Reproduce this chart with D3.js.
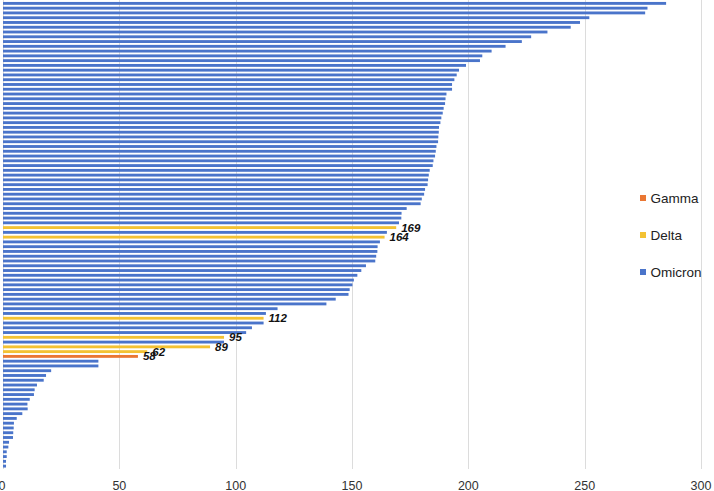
<!DOCTYPE html>
<html>
<head>
<meta charset="utf-8">
<script src="https://cdn.jsdelivr.net/npm/d3@7"></script>
<style>
  html, body { margin: 0; padding: 0; background: #fff; }
  svg { display: block; font-family: "Liberation Sans", Arial, Helvetica, sans-serif; }
</style>
</head>
<body>
<svg id="chart" width="714" height="491"></svg>
<script>
// ---- data (top row first) ----
const values = [
  285, 277, 276, 252, 248, 244, 234, 227, 223, 216,
  210, 206, 205, 199, 196, 195, 194, 193, 193, 190.6,
  190.2, 190, 189.4, 189, 188.4, 188, 187.4, 187.3, 187.1, 187,
  186.3, 186, 185.7, 185, 184.7, 183.4, 183, 182.7, 182.5, 181.4,
  181, 180, 179.5, 173.5, 171.3, 171.2, 170.2, 169, 165, 164,
  162, 161, 160.9, 160.4, 160, 156, 154, 152.3, 150.8, 150.2,
  149, 148.5, 143, 139, 118, 113, 112, 112, 107, 104.5,
  95, 95, 89, 62, 58, 41, 41, 20.7, 18.5, 17.5,
  14.6, 13.6, 13.3, 11.5, 10.5, 10.6, 8.3, 5.9, 4.7, 4.6,
  4.4, 4.3, 2.6, 2.3, 1.6, 1.6, 1.3, 1.3
];
const variants = values.map(() => "Omicron");
// rows (0-based) that belong to Delta / Gamma
const deltaRows = [47, 49, 66, 70, 72, 73];
const gammaRows = [74];
deltaRows.forEach(i => variants[i] = "Delta");
gammaRows.forEach(i => variants[i] = "Gamma");
const rowIds = values.map((v, i) => i + 1);
const seriesNames = ["Gamma", "Delta", "Omicron"];
const seriesColors = ["#EA7733", "#F3C233", "#4A74CA"];
const tickValues = [0, 50, 100, 150, 200, 250, 300];

// ---- chart ----
const svg = d3.select("#chart");
const x = d3.scaleLinear().domain([0, 300]).range([3, 701]);
const y = d3.scaleBand().domain(rowIds).range([1, 468.5]).paddingInner(0.4).paddingOuter(0.2);
const color = d3.scaleOrdinal().domain(seriesNames).range(seriesColors);

// gridlines
svg.append("g")
  .selectAll("line")
  .data(tickValues)
  .join("line")
  .attr("x1", d => Math.round(x(d)) + 0.5)
  .attr("x2", d => Math.round(x(d)) + 0.5)
  .attr("y1", 0)
  .attr("y2", 469)
  .attr("stroke", "#dcdcdc")
  .attr("stroke-width", 1);

// bars
const rows = values.map((v, i) => ({ id: rowIds[i], value: v, variant: variants[i] }));
svg.append("g")
  .selectAll("rect")
  .data(rows)
  .join("rect")
  .attr("x", x(0))
  .attr("y", d => y(d.id))
  .attr("width", d => x(d.value) - x(0))
  .attr("height", y.bandwidth())
  .attr("fill", d => color(d.variant));

// data labels on Delta / Gamma bars
svg.append("g")
  .selectAll("text")
  .data(rows.filter(d => d.variant !== "Omicron"))
  .join("text")
  .attr("x", d => x(d.value) + 5)
  .attr("y", d => y(d.id) + y.bandwidth() / 2 + 4.1)
  .attr("font-size", "11.5px")
  .attr("font-weight", "bold")
  .attr("font-style", "italic")
  .attr("fill", "#111")
  .text(d => d3.format(".0f")(d.value));

// x axis labels
svg.append("g")
  .selectAll("text")
  .data(tickValues)
  .join("text")
  .attr("x", d => x(d) - (d === 0 ? 1 : 0))
  .attr("y", 489.5)
  .attr("text-anchor", "middle")
  .attr("font-size", "12.5px")
  .attr("fill", "#333")
  .text(d => d);

// legend
const legend = svg.append("g")
  .selectAll("g")
  .data(seriesNames)
  .join("g")
  .attr("transform", (d, i) => `translate(640, ${198 + i * 37})`);
legend.append("rect")
  .attr("x", 0).attr("y", -3)
  .attr("width", 6).attr("height", 6)
  .attr("fill", d => color(d));
legend.append("text")
  .attr("x", 10.5).attr("y", 4.8)
  .attr("font-size", "13.5px")
  .attr("fill", "#222")
  .text(d => d);
</script>
</body>
</html>
